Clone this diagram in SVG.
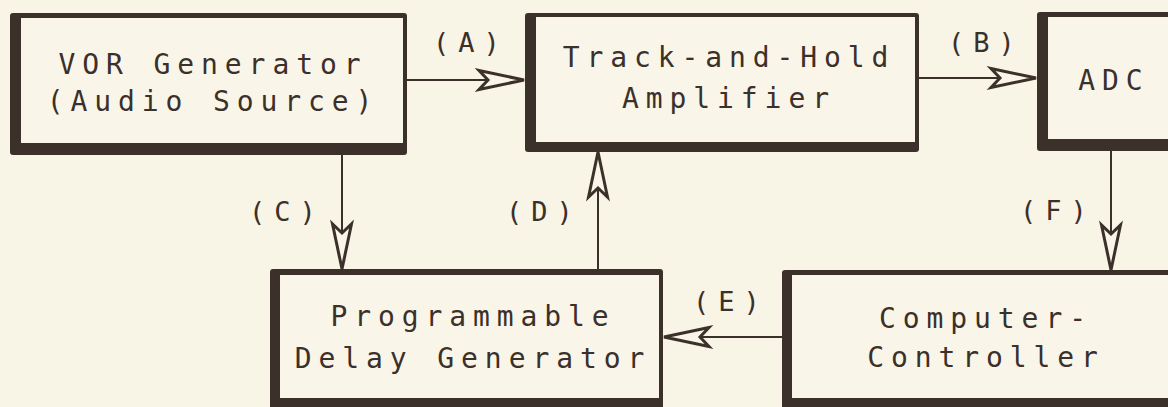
<svg xmlns="http://www.w3.org/2000/svg" width="1168" height="407" viewBox="0 0 1168 407">
<defs>
<style>
.bg{fill:#f8f4e6}
.frame{fill:#3b302a}
.face{fill:#f9f6e9}
.t{font-family:"DejaVu Sans Mono","Liberation Mono",monospace;font-size:28px;letter-spacing:6.9px;fill:#3b302a;text-anchor:middle}
.lbl{font-family:"DejaVu Sans Mono","Liberation Mono",monospace;font-size:27px;letter-spacing:9px;fill:#3b302a;text-anchor:middle}
.conn{stroke:#3b302a;stroke-width:2;fill:none;marker-end:url(#ah)}
</style>
<marker id="ah" viewBox="-50 -13 52 26" markerWidth="52" markerHeight="26" refX="0" refY="0" markerUnits="userSpaceOnUse" orient="auto">
<path d="M0,0 L-45,-9.5 L-36,0 L-45,9.5 Z" fill="#f9f6e9" stroke="#3b302a" stroke-width="3" stroke-linejoin="miter"/>
</marker>
</defs>
<rect class="bg" x="0" y="0" width="1168" height="407"/>
<g id="connectors">
<line class="conn" x1="407" y1="80" x2="524" y2="80"/>
<line class="conn" x1="919" y1="78" x2="1036" y2="78"/>
<line class="conn" x1="342" y1="155" x2="342" y2="269"/>
<line class="conn" x1="598" y1="269" x2="598" y2="152"/>
<line class="conn" x1="782" y1="337" x2="664" y2="337"/>
<line class="conn" x1="1111" y1="151" x2="1111" y2="270"/>
<text class="lbl" x="471" y="52">(A)</text>
<text class="lbl" x="986" y="52">(B)</text>
<text class="lbl" x="287" y="221">(C)</text>
<text class="lbl" x="544" y="221">(D)</text>
<text class="lbl" x="731" y="311">(E)</text>
<text class="lbl" x="1058" y="220">(F)</text>
</g>
<g id="vor">
<rect class="frame" x="10" y="13" width="397" height="142" rx="3"/>
<rect class="face" x="21" y="18" width="382" height="125"/>
<text class="t" x="213" y="74">VOR Generator</text>
<text class="t" x="213" y="111">(Audio Source)</text>
</g>
<g id="trackhold">
<rect class="frame" x="525" y="13" width="394" height="139" rx="3"/>
<rect class="face" x="536" y="17" width="379" height="125"/>
<text class="t" x="729" y="67">Track-and-Hold</text>
<text class="t" x="729" y="108">Amplifier</text>
</g>
<g id="adc">
<rect class="frame" x="1037" y="12" width="145" height="139" rx="3"/>
<rect class="face" x="1048" y="17" width="130" height="122"/>
<text class="t" x="1114" y="90">ADC</text>
</g>
<g id="delay">
<rect class="frame" x="270" y="269" width="393" height="145" rx="3"/>
<rect class="face" x="280" y="275" width="379" height="123"/>
<text class="t" x="473" y="326">Programmable</text>
<text class="t" x="473" y="368">Delay Generator</text>
</g>
<g id="computer">
<rect class="frame" x="782" y="270" width="400" height="145" rx="3"/>
<rect class="face" x="792" y="275" width="390" height="123"/>
<text class="t" x="986" y="328">Computer-</text>
<text class="t" x="986" y="367">Controller</text>
</g>
</svg>
